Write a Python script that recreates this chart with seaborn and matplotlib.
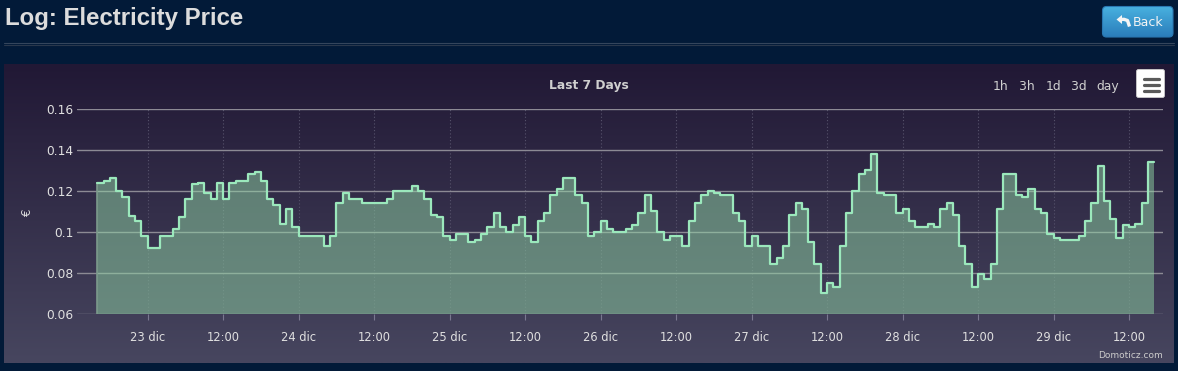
import numpy as np
import pandas as pd
import matplotlib
matplotlib.use("Agg")
import matplotlib.pyplot as plt
import matplotlib.colors as mcolors
from matplotlib.patches import FancyBboxPatch, Polygon
import seaborn as sns

# ---------------- data ----------------
start_time = "2024-12-22 16:00"
prices = [
    0.1242, 0.1249, 0.1262, 0.1203, 0.1172, 0.1081, 0.1052, 0.0982,
    0.0924, 0.0924, 0.0982, 0.0982, 0.1013, 0.1073, 0.1163, 0.1234,
    0.1242, 0.1193, 0.1163, 0.1242, 0.1163, 0.1242, 0.1252, 0.1252,
    0.1285, 0.1293, 0.1252, 0.1163, 0.1133, 0.1042, 0.1112, 0.1023,
    0.0982, 0.0982, 0.0982, 0.0982, 0.0932, 0.0982, 0.1143, 0.1193,
    0.1163, 0.1163, 0.1143, 0.1143, 0.1143, 0.1143, 0.1163, 0.1203,
    0.1203, 0.1203, 0.1223, 0.1203, 0.1163, 0.1083, 0.1073, 0.0982,
    0.0962, 0.0992, 0.0992, 0.0953, 0.0962, 0.0992, 0.1023, 0.1093,
    0.1023, 0.1003, 0.1033, 0.1073, 0.0982, 0.0953, 0.1052, 0.1093,
    0.1182, 0.1211, 0.1262, 0.1262, 0.1182, 0.1143, 0.0982, 0.1003,
    0.1052, 0.1013, 0.1003, 0.1003, 0.1013, 0.1033, 0.1093, 0.1182,
    0.1102, 0.1003, 0.0962, 0.0982, 0.0982, 0.0934, 0.1052, 0.1143,
    0.1182, 0.1203, 0.1193, 0.1182, 0.1182, 0.1093, 0.1052, 0.0934,
    0.0982, 0.0934, 0.0934, 0.0842, 0.0873, 0.0934, 0.1083, 0.1143,
    0.1112, 0.0953, 0.0842, 0.0702, 0.0753, 0.0733, 0.0934, 0.1093,
    0.1203, 0.1283, 0.1302, 0.1382, 0.1193, 0.1182, 0.1182, 0.1093,
    0.1112, 0.1052, 0.1023, 0.1023, 0.1042, 0.1023, 0.1112, 0.1143,
    0.1083, 0.0934, 0.0842, 0.0733, 0.0793, 0.0772, 0.0842, 0.1112,
    0.1283, 0.1283, 0.1182, 0.1172, 0.1213, 0.1112, 0.1093, 0.0992,
    0.0972, 0.0962, 0.0962, 0.0962, 0.0982, 0.1052, 0.1143, 0.1324,
    0.1153, 0.1062, 0.0972, 0.1033, 0.1023, 0.1042, 0.1143, 0.1343,
]
y_ticks = [0.06, 0.08, 0.10, 0.12, 0.14, 0.16]
y_tick_labels = ["0.06", "0.08", "0.1", "0.12", "0.14", "0.16"]
x_tick_times = pd.date_range("2024-12-23 00:00", "2024-12-29 12:00", freq="12h")
x_tick_labels = ["23 dic", "12:00", "24 dic", "12:00", "25 dic", "12:00",
                 "26 dic", "12:00", "27 dic", "12:00", "28 dic", "12:00",
                 "29 dic", "12:00"]
range_buttons = ["1h", "3h", "1d", "3d", "day"]

# step data: repeat last value to close the last hour
times = pd.date_range(start_time, periods=len(prices) + 1, freq="h")
df = pd.DataFrame({"time": times, "price": prices + [prices[-1]]})

# ---------------- figure ----------------
W, H = 1178, 371
sns.set_theme(style="dark")
plt.rcParams["font.family"] = ["DejaVu Sans"]
fig = plt.figure(figsize=(W / 100, H / 100), dpi=100)
fig.patch.set_facecolor("#021a38")

# underlay in pixel coordinates
ua = fig.add_axes([0, 0, 1, 1])
ua.set_xlim(0, W)
ua.set_ylim(H, 0)
ua.axis("off")

# container gradient
c_top = np.array(mcolors.to_rgb("#211835"))
c_bot = np.array(mcolors.to_rgb("#47465f"))
g = np.linspace(0, 1, 256).reshape(-1, 1, 1)
img = c_top + (c_bot - c_top) * g
img = np.repeat(img, 2, axis=1)
ua.imshow(img, extent=[4, 1174, 363, 64], aspect="auto", interpolation="bilinear", zorder=1)

# header rules
ua.plot([4, 1174], [42.5, 42.5], color="#34455c", lw=0.8, zorder=2)
ua.plot([4, 1174], [44.5, 44.5], color="#2a384c", lw=0.8, zorder=2)

# title
ua.text(5, 19, "Log: Electricity Price", fontsize=17.3, fontweight="bold",
        family="Liberation Sans", color="#dcdcdc", va="center", ha="left", zorder=3)

# back button with gradient
b_top = np.array(mcolors.to_rgb("#49b2e0"))
b_bot = np.array(mcolors.to_rgb("#2a7cba"))
bimg = b_top + (b_bot - b_top) * g
bimg = np.repeat(bimg, 2, axis=1)
bbox = FancyBboxPatch((1102.5, 6.5), 70.5, 30.5, boxstyle="round,pad=0,rounding_size=4",
                      facecolor="none", edgecolor="#2a78b2", lw=0.8, zorder=4)
ua.add_patch(bbox)
bi = ua.imshow(bimg, extent=[1102.5, 1173, 37, 6.5], aspect="auto", interpolation="bilinear", zorder=3)
bi.set_clip_path(bbox)
ua.text(1132.5, 22, "Back", fontsize=9, color="#f4f4f4", va="center", ha="left", zorder=5)
# reply icon
ua.add_patch(Polygon([[1116.5, 19.5], [1122, 15], [1122, 24]], closed=True,
                     facecolor="#f4f4f4", edgecolor="none", zorder=5))
ua.plot([1121, 1124, 1127.5, 1129.5], [19.5, 19.3, 20.5, 26.5], color="#f4f4f4",
        lw=2.4, zorder=5, solid_capstyle="butt")

# chart title & range buttons
ua.text(589, 86, "Last 7 Days", fontsize=8.8, fontweight="bold", color="#cfcfcf",
        va="center", ha="center", zorder=3)
for lab, cx in zip(range_buttons, [1001, 1027, 1053, 1078.5, 1108]):
    ua.text(cx, 86.5, lab, fontsize=8.9, color="#d0d0d0", va="center", ha="center", zorder=3)

# menu button
mb = FancyBboxPatch((1136.5, 69.5), 28, 28, boxstyle="round,pad=0,rounding_size=2",
                    facecolor="#ffffff", edgecolor="#cccccc", lw=0.6, zorder=3)
ua.add_patch(mb)
for yy in [79, 85, 91]:
    ua.plot([1143.5, 1158.5], [yy, yy], color="#5a5a5a", lw=2.3, zorder=4,
            solid_capstyle="round")

# y label & credits
ua.text(27, 212, "€", fontsize=8.5, color="#dddddd", rotation=90, va="center", ha="center", zorder=3)
ua.text(1163, 355, "Domoticz.com", fontsize=6.5, color="#cccccc", va="center", ha="right", zorder=3)

# ---------------- main plot ----------------
ax_l, ax_r, ax_t, ax_b = 77, 1163, 109.3, 314
ax = fig.add_axes([ax_l / W, 1 - ax_b / H, (ax_r - ax_l) / W, (ax_b - ax_t) / H])
ax.set_facecolor("none")
for s in ax.spines.values():
    s.set_visible(False)

t0 = pd.Timestamp(start_time)
ax.set_xlim(t0 - pd.Timedelta(hours=3.23), t0 + pd.Timedelta(hours=169.4))
ax.set_ylim(0.06, 0.16)

# grid
for xt in x_tick_times:
    ax.axvline(xt, color="#57536c", lw=0.8, ls=(0, (1, 2)), zorder=1)
for yt in y_ticks:
    ax.axhline(yt, color="#8c8a94", lw=1.0, zorder=1)

ax.fill_between(df["time"], df["price"], 0.06, step="post",
                color="#90d4a4", alpha=0.5, lw=0, zorder=2)
sns.lineplot(data=df, x="time", y="price", drawstyle="steps-post",
             color="#9be8bc", lw=1.6, ax=ax, zorder=3)
ax.plot([df["time"].iloc[0]] * 2, [0.06, prices[0]], color="#7c9a8c", lw=1.2, zorder=2)

ax.set_xlabel("")
ax.set_ylabel("")
ax.set_yticks(y_ticks)
ax.set_yticklabels(y_tick_labels)
ax.set_xticks(x_tick_times)
ax.set_xticklabels(x_tick_labels)
ax.tick_params(axis="y", length=0, pad=2.5, labelsize=8.8, labelcolor="#e0e0e0")
ax.tick_params(axis="x", length=4.5, width=0.8, color="#7a7890", direction="out",
               pad=7.5, labelsize=8.3, labelcolor="#e0e0e0", bottom=True)
ax.grid(False)

fig.savefig("out.png", dpi=100, facecolor=fig.get_facecolor())
